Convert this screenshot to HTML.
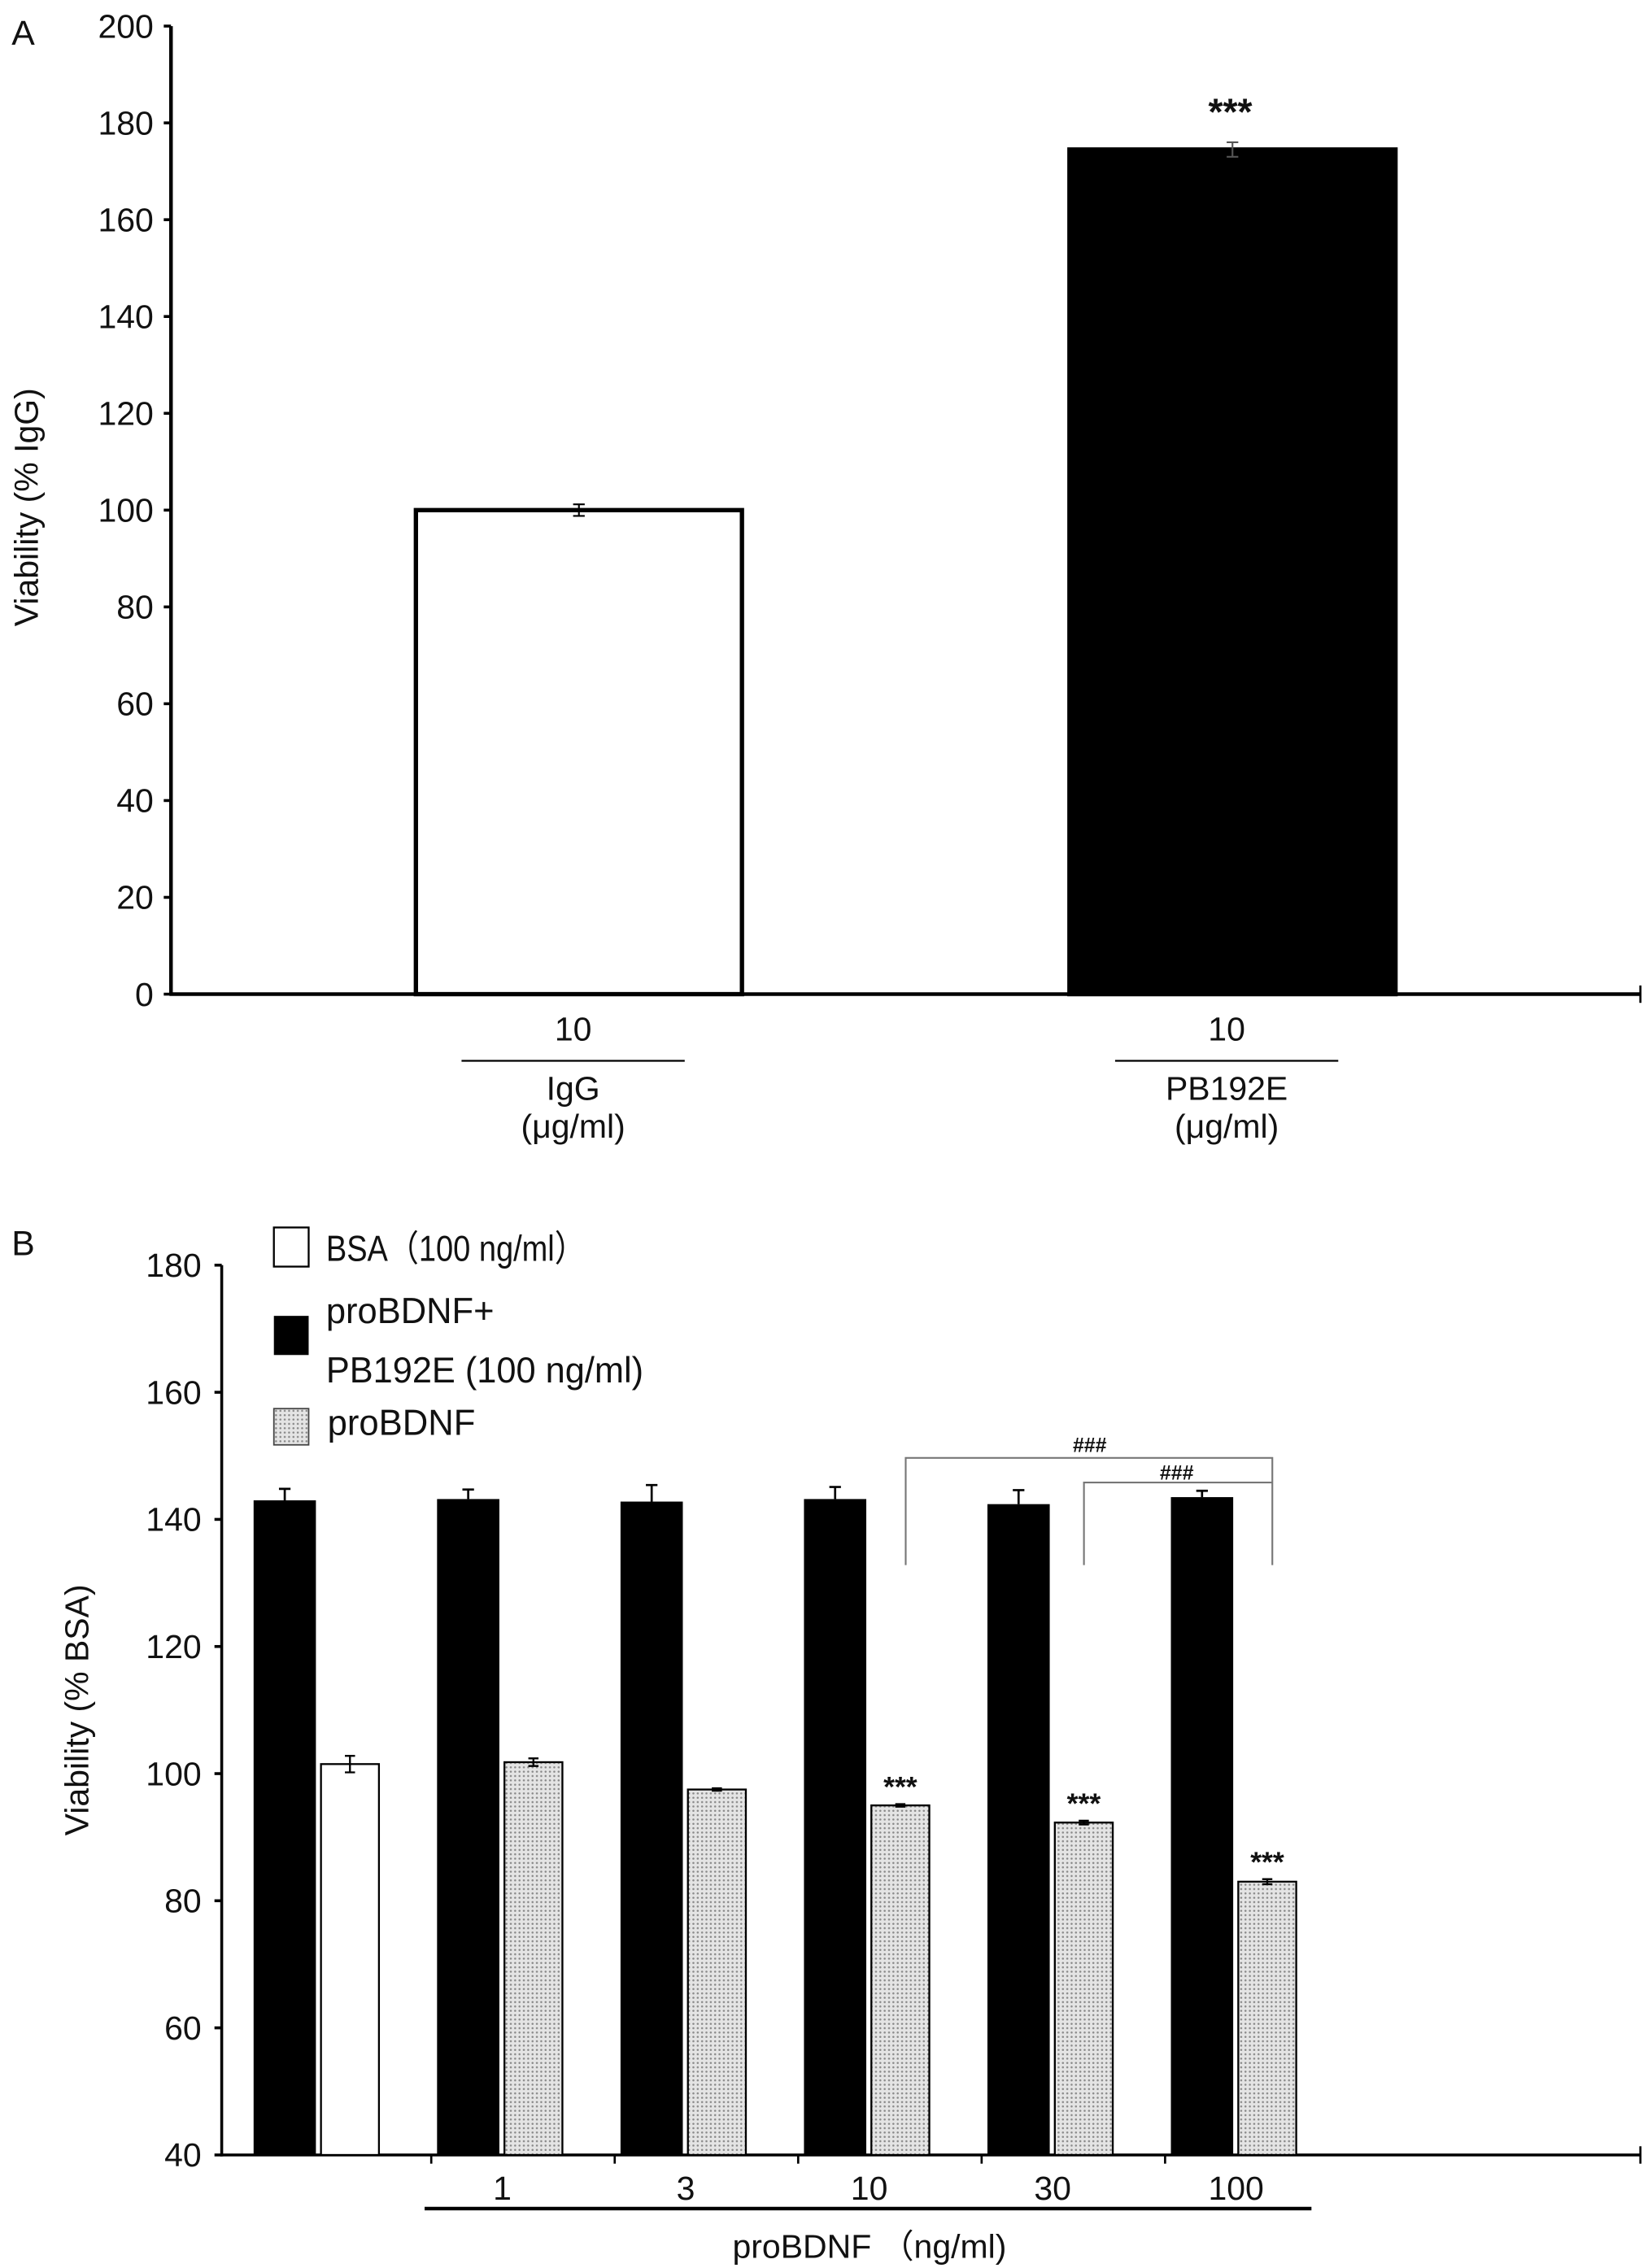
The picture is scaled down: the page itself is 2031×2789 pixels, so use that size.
<!DOCTYPE html>
<html><head><meta charset="utf-8"><style>
html,body{margin:0;padding:0;background:#fff}
svg{display:block}
text{font-family:"Liberation Sans","Noto Sans CJK SC",sans-serif;fill:#111}
</style></head><body>
<svg id="fig" width="2031" height="2789" viewBox="0 0 1140 1565" preserveAspectRatio="none" xmlns="http://www.w3.org/2000/svg">
<defs>
<pattern id="dots" width="3" height="3" patternUnits="userSpaceOnUse">
<rect width="3" height="3" fill="#e4e4e4"/><circle cx="1.5" cy="1.5" r="0.7" fill="#888"/>
</pattern>
</defs>
<g id="panelA"></g>
<g id="panelB"></g>
</svg>
<script>
// Panel A data
const aCategories = ["IgG", "PB192E"];
const aValues = [100, 174.5];
const aErrors = [1.2, 1.5];
const aTicks = [0,20,40,60,80,100,120,140,160,180,200];
// Panel B data
const bGroups = ["", "1", "3", "10", "30", "100"];
const bBlack = [143, 143.2, 142.8, 143.2, 142.4, 143.5];
const bBlackErr = [1.8, 1.5, 2.6, 1.9, 2.2, 1.0];
const bOther = [101.5, 101.8, 97.5, 95, 92.3, 83];
const bOtherErr = [1.3, 0.6, 0.2, 0.2, 0.3, 0.4];
const bTicks = [40,60,80,100,120,140,160,180];

const NS = "http://www.w3.org/2000/svg";
function mk(parent, tag, attrs, txt){
  const e = document.createElementNS(NS, tag);
  for (const k in attrs) e.setAttribute(k, attrs[k]);
  if (txt !== undefined) e.textContent = txt;
  parent.appendChild(e);
  return e;
}
const A = document.getElementById('panelA');
const B = document.getElementById('panelB');
const FS = 23;

// ---------- Panel A ----------
const ayA = v => 686 - (v/200)*668;
let t;
t = mk(A,'text',{x:8,y:31,'font-size':24},'A');
 
let ax = mk(A,'line',{x1:118,y1:18,x2:118,y2:687,stroke:'#000','stroke-width':2.5});
 
ax = mk(A,'line',{x1:117,y1:686,x2:1132,y2:686,stroke:'#000','stroke-width':2.5});
 
mk(A,'line',{x1:1132,y1:680,x2:1132,y2:692,stroke:'#000','stroke-width':1.5});
aTicks.forEach(v=>{
  const y = ayA(v);
  const tk = mk(A,'line',{x1:113,y1:y,x2:118,y2:y,stroke:'#000','stroke-width':2});
   
  const lb = mk(A,'text',{x:106,y:y+8,'font-size':FS,'text-anchor':'end'},String(v));
   
});
t = mk(A,'text',{x:0,y:0,'font-size':FS,'text-anchor':'middle',transform:'translate(26,350) rotate(-90)'},'Viability (% IgG)');
 
const aX = [287, 738], aW = 225;
aCategories.forEach((c,i)=>{
  const x = aX[i], y = ayA(aValues[i]);
  const r = mk(A,'rect',{x:x,y:y,width:aW,height:686-y,fill:i?'#000':'#fff',stroke:'#000','stroke-width':3});
   
  const cx = x+aW/2, e1 = ayA(aValues[i]+aErrors[i]), e2 = ayA(aValues[i]-aErrors[i]);
  const eb = mk(A,'path',{d:`M${cx},${e1}V${e2}M${cx-4},${e1}H${cx+4}M${cx-4},${e2}H${cx+4}`,stroke:i?'#555':'#000','stroke-width':1.2,fill:'none'});
   
  const lx = cx-4;
  const l1 = mk(A,'text',{x:lx,y:718,'font-size':FS,'text-anchor':'middle'},'10');
   
  const ln = mk(A,'line',{x1:lx-77,y1:732,x2:lx+77,y2:732,stroke:'#000','stroke-width':1.3});
   
  const l2 = mk(A,'text',{x:lx,y:759,'font-size':FS,'text-anchor':'middle'},c);
   
  const l3 = mk(A,'text',{x:lx,y:785,'font-size':FS,'text-anchor':'middle'},'(μg/ml)');
   
});
t = mk(A,'text',{x:849,y:ayA(aValues[1]+aErrors[1])-12,'font-size':26,'text-anchor':'middle','font-weight':'bold'},'***');
 

// ---------- Panel B ----------
const ayB = v => 1487 - ((v-40)/140)*614;
t = mk(B,'text',{x:8,y:866,'font-size':24},'B');
 
ax = mk(B,'line',{x1:153,y1:873,x2:153,y2:1488,stroke:'#000','stroke-width':2});
 
ax = mk(B,'line',{x1:152,y1:1487,x2:1132,y2:1487,stroke:'#000','stroke-width':2});
 
mk(B,'line',{x1:1132,y1:1481,x2:1132,y2:1493,stroke:'#000','stroke-width':1.5});
bTicks.forEach(v=>{
  const y = ayB(v);
  const tk = mk(B,'line',{x1:148,y1:y,x2:153,y2:y,stroke:'#000','stroke-width':2});
   
  const lb = mk(B,'text',{x:139,y:y+8,'font-size':FS,'text-anchor':'end'},String(v));
   
});
t = mk(B,'text',{x:0,y:0,'font-size':FS,'text-anchor':'middle',transform:'translate(61,1180) rotate(-90)'},'Viability (% BSA)');
 
const gx = i => 175 + i*126.6;
const bw = 43;
bGroups.forEach((g,i)=>{
  const x0 = gx(i);
  let y = ayB(bBlack[i]);
  let r = mk(B,'rect',{x:x0,y:y,width:bw,height:1487-y,fill:'#000'});
   
  let cx = x0+bw/2, e1 = ayB(bBlack[i]+bBlackErr[i]);
  let eb = mk(B,'path',{d:`M${cx},${y}V${e1}M${cx-4},${e1}H${cx+4}`,stroke:'#000','stroke-width':1.5,fill:'none'});
   
  const x1 = x0+bw+3.5;
  y = ayB(bOther[i]);
  r = mk(B,'rect',{x:x1,y:y,width:bw-3,height:1487-y,fill:i===0?'#fff':'url(#dots)',stroke:'#000','stroke-width':1.3});
   
  cx = x1+(bw-3)/2; e1 = ayB(bOther[i]+bOtherErr[i]); const e2 = ayB(bOther[i]-bOtherErr[i]);
  eb = mk(B,'path',{d:`M${cx},${e1}V${e2}M${cx-3.5},${e1}H${cx+3.5}M${cx-3.5},${e2}H${cx+3.5}`,stroke:'#000','stroke-width':1.3,fill:'none'});
   
  if (i>0){
    const lb = mk(B,'text',{x:x0+bw+2,y:1518,'font-size':FS,'text-anchor':'middle'},g);
     
    const tk = mk(B,'line',{x1:x0-4,y1:1487,x2:x0-4,y2:1493,stroke:'#000','stroke-width':1.5});
     
  }
  if (i>=3){
    const s = mk(B,'text',{x:cx,y:ayB(bOther[i]+bOtherErr[i])-5,'font-size':20,'text-anchor':'middle','font-weight':'bold'},'***');
     
  }
});
let gl = mk(B,'line',{x1:293,y1:1524,x2:905,y2:1524,stroke:'#000','stroke-width':2.5});
 
t = mk(B,'text',{x:600,y:1558,'font-size':FS,'text-anchor':'middle'},'proBDNF （ng/ml)');
 
// brackets
let br = mk(B,'path',{d:'M625,1080V1006H878V1080',stroke:'#777','stroke-width':1.2,fill:'none'});
 
br = mk(B,'path',{d:'M748,1080V1023H878',stroke:'#777','stroke-width':1.2,fill:'none'});
 
t = mk(B,'text',{x:752,y:1002,'font-size':14,'text-anchor':'middle','font-weight':'bold'},'###');
 
t = mk(B,'text',{x:812,y:1021,'font-size':14,'text-anchor':'middle','font-weight':'bold'},'###');
 
// legend
let lg = mk(B,'rect',{x:189,y:847,width:24,height:27,fill:'#fff',stroke:'#000','stroke-width':1.3});
 
t = mk(B,'text',{x:225,y:870,'font-size':25,textLength:179,lengthAdjust:'spacingAndGlyphs'},'BSA（100 ng/ml）');
 
lg = mk(B,'rect',{x:189,y:908,width:24,height:27,fill:'#000'});
 
t = mk(B,'text',{x:225,y:913,'font-size':25,textLength:116,lengthAdjust:'spacingAndGlyphs'},'proBDNF+');
 
t = mk(B,'text',{x:225,y:954,'font-size':25,textLength:219,lengthAdjust:'spacingAndGlyphs'},'PB192E (100 ng/ml)');
 
lg = mk(B,'rect',{x:189,y:972,width:24,height:25,fill:'url(#dots)',stroke:'#444','stroke-width':1});
 
t = mk(B,'text',{x:226,y:990,'font-size':25,textLength:102,lengthAdjust:'spacingAndGlyphs'},'proBDNF');
 
</script>
</body></html>
